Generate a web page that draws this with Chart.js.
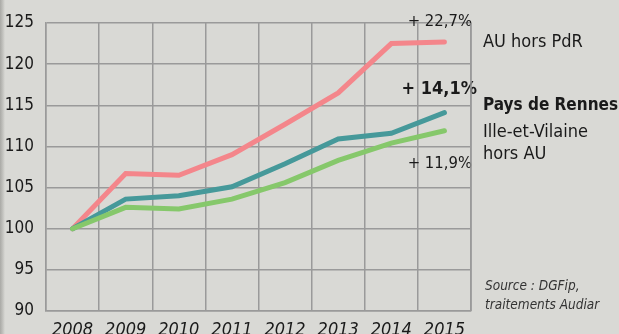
<!DOCTYPE html>
<html>
<head>
<meta charset="utf-8">
<script src="https://cdn.jsdelivr.net/npm/chart.js@4"></script>
<style>
  html, body { margin: 0; padding: 0; background: #d9d9d5; }
  #wrap { position: relative; width: 619px; height: 334px; overflow: hidden; }
  #edge { position: absolute; left: 0; top: 0; width: 5px; height: 334px;
          background: linear-gradient(to right, #a9a9a5, #c4c4c0 60%, #d9d9d5); }
  canvas { position: absolute; left: 0; top: 0; }
</style>
</head>
<body>
<div id="wrap">
  <canvas id="myChart" width="619" height="334"></canvas>
  <div id="edge"></div>
</div>
<script>
// indice base 100 en 2008
const years = ['2008', '2009', '2010', '2011', '2012', '2013', '2014', '2015'];
const auHorsPdr = [100, 106.7, 106.5, 109.0, 112.7, 116.5, 122.5, 122.7];
const paysDeRennes = [100, 103.6, 104.0, 105.1, 107.9, 110.9, 111.6, 114.1];
const illeHorsAu = [100, 102.6, 102.4, 103.6, 105.6, 108.3, 110.4, 111.9];
const yTicks = [90, 95, 100, 105, 110, 115, 120, 125];

const FONT = "'Liberation Sans Narrow', 'DejaVu Sans Condensed', 'Liberation Sans', sans-serif";
const PINK = '#f4868b';
const TEAL = '#46999a';
const GREEN = '#86c86b';

// libelles a droite des courbes, ancres sur la derniere valeur de chaque serie
const endLabels = {
  id: 'endLabels',
  afterDraw(chart) {
    const ctx = chart.ctx;
    const y = chart.scales.y;
    const right = chart.chartArea.right;
    const last = auHorsPdr.length - 1;
    const yPink = y.getPixelForValue(auHorsPdr[last]);
    const yTeal = y.getPixelForValue(paysDeRennes[last]);
    const yGreen = y.getPixelForValue(illeHorsAu[last]);
    ctx.save();
    ctx.fillStyle = '#1a1a1a';
    ctx.textBaseline = 'middle';

    ctx.textAlign = 'right';
    ctx.font = '16.5px ' + FONT;
    ctx.fillText('+ 22,7%', right + 1, yPink - 20);
    ctx.fillText('+ 11,9%', right + 1, yGreen + 33);
    ctx.font = 'bold 18px ' + FONT;
    ctx.fillText('+ 14,1%', right + 6, yTeal - 23);

    ctx.textAlign = 'left';
    ctx.font = '18px ' + FONT;
    ctx.fillText('AU hors PdR', right + 12, yPink);
    ctx.fillText('Ille-et-Vilaine', right + 12, yTeal + 20);
    ctx.fillText('hors AU', right + 12, yTeal + 42);
    ctx.font = 'bold 17px ' + FONT;
    ctx.fillText('Pays de Rennes', right + 12, yTeal - 7);

    ctx.font = 'italic 13.5px ' + FONT;
    ctx.fillStyle = '#333';
    ctx.fillText('Source : DGFip,', right + 14, 286);
    ctx.fillText('traitements Audiar', right + 14, 305);

    // cadre droit du graphique
    ctx.strokeStyle = '#9a9a9a';
    ctx.lineWidth = 1.5;
    ctx.beginPath();
    ctx.moveTo(right, chart.chartArea.top);
    ctx.lineTo(right, chart.chartArea.bottom);
    ctx.stroke();
    ctx.restore();
  }
};

function lineSet(label, data, color) {
  return {
    label: label,
    data: data,
    borderColor: color,
    backgroundColor: color,
    borderWidth: 5,
    pointRadius: 0,
    tension: 0,
    borderCapStyle: 'round',
    borderJoinStyle: 'miter',
    fill: false
  };
}

new Chart(document.getElementById('myChart'), {
  type: 'line',
  data: {
    labels: years,
    datasets: [
      lineSet('Ille-et-Vilaine hors AU', illeHorsAu, GREEN),
      lineSet('Pays de Rennes', paysDeRennes, TEAL),
      lineSet('AU hors PdR', auHorsPdr, PINK)
    ]
  },
  options: {
    responsive: false,
    animation: false,
    layout: { padding: { left: 0, top: 23, right: 148, bottom: 0 } },
    plugins: { legend: { display: false }, tooltip: { enabled: false } },
    scales: {
      x: {
        offset: true,
        grid: { offset: true, color: '#9a9a9a', lineWidth: 1.5, drawTicks: false },
        border: { color: '#9a9a9a', width: 1.5 },
        ticks: { color: '#1a1a1a', padding: 9, maxRotation: 0,
                 font: { family: FONT, size: 18, style: 'italic' } },
        afterFit(scale) { scale.height = 23; }
      },
      y: {
        min: 90,
        max: 125,
        afterBuildTicks(scale) { scale.ticks = yTicks.map(v => ({ value: v })); },
        grid: { color: '#9a9a9a', lineWidth: 1.5, drawTicks: false },
        border: { color: '#9a9a9a', width: 1.5 },
        ticks: { color: '#1a1a1a', padding: 12,
                 font: { family: FONT, size: 17 } },
        afterFit(scale) { scale.width = 46; }
      }
    }
  },
  plugins: [endLabels]
});
</script>
</body>
</html>
